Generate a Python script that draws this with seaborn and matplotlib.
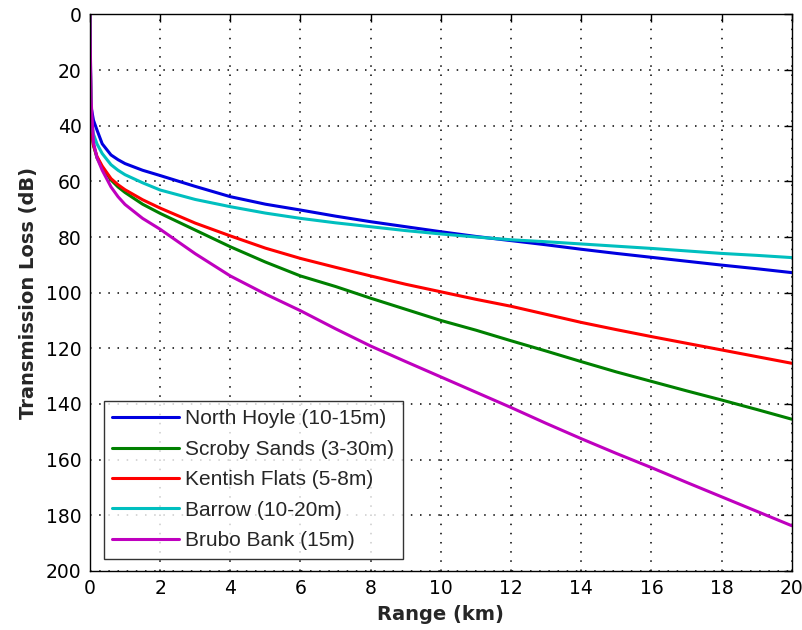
import matplotlib
matplotlib.use("Agg")
import matplotlib.pyplot as plt
import seaborn as sns
import pandas as pd

# ---- data ----
range_km = [0, 0.03, 0.1, 0.2, 0.35, 0.6, 0.8, 1.0, 1.5, 2, 3, 4, 5, 6, 7, 8,
            9, 10, 11, 12, 13, 14, 15, 16, 17, 18, 19, 20]

north_hoyle = [0, 33, 38, 41.5, 46.5, 50.5, 52.2, 53.6, 56, 57.9, 61.8, 65.5,
               68.2, 70.3, 72.5, 74.5, 76.3, 78.1, 79.8, 81.3, 82.8, 84.4,
               85.9, 87.3, 88.7, 90.1, 91.4, 92.8]
scroby_sands = [0, 40, 47, 51.5, 55, 59.5, 62, 64, 68.2, 71.5, 77.5, 83.5,
                89, 94, 97.8, 102, 106, 110, 113.5, 117.3, 121, 124.8, 128.5,
                131.9, 135.3, 138.6, 142, 145.5]
kentish_flats = [0, 40, 47, 51, 54.5, 59, 61.2, 63, 66.6, 69.6, 75, 79.6, 84,
                 87.7, 90.9, 94, 97, 99.7, 102.4, 104.9, 107.8, 110.7, 113.3,
                 115.8, 118.2, 120.6, 123, 125.4]
barrow = [0, 37, 43, 46.5, 50, 54, 56, 57.6, 60.5, 63.1, 66.5, 69.1, 71.4,
          73.3, 74.9, 76.3, 77.7, 78.9, 80, 81, 81.7, 82.5, 83.3, 84.1, 85,
          85.9, 86.6, 87.4]
brubo_bank = [0, 30, 46, 51.5, 56, 62, 65.5, 68.3, 73.3, 77.2, 86, 94, 100.5,
              106.5, 113, 119.2, 124.8, 130.3, 135.8, 141.3, 147, 152.5,
              157.8, 162.9, 168.2, 173.4, 178.6, 183.8]

series_names = ["North Hoyle (10-15m)", "Scroby Sands (3-30m)",
                "Kentish Flats (5-8m)", "Barrow (10-20m)", "Brubo Bank (15m)"]
series_values = [north_hoyle, scroby_sands, kentish_flats, barrow, brubo_bank]
series_colors = ["#0000e0", "#008000", "#ff0000", "#00bfbf", "#bf00bf"]

x_ticks = [0, 2, 4, 6, 8, 10, 12, 14, 16, 18, 20]
y_ticks = [0, 20, 40, 60, 80, 100, 120, 140, 160, 180, 200]

rows = []
for name, vals in zip(series_names, series_values):
    for x, y in zip(range_km, vals):
        rows.append({"Range": x, "TL": y, "Site": name})
df = pd.DataFrame(rows)

# ---- style ----
sns.set_style("white")
plt.rcParams["font.family"] = ["DejaVu Sans Condensed", "DejaVu Sans"]

fig = plt.figure(figsize=(8.03, 6.30), dpi=100)
ax = fig.add_axes([0.112, 0.094, 0.874, 0.883])

sns.lineplot(data=df, x="Range", y="TL", hue="Site", hue_order=series_names,
             palette=dict(zip(series_names, series_colors)), linewidth=2.2,
             sort=False, estimator=None, ax=ax)

ax.set_xlim(0, 20)
ax.set_ylim(200, 0)
ax.set_xticks(x_ticks)
ax.set_yticks(y_ticks)
ax.tick_params(direction="in", length=6, width=1, top=True, right=True,
               labelsize=13.5, colors="black", pad=6)
ax.grid(True, color="black", linestyle=(0, (1, 5)), linewidth=1.1)
for sp in ax.spines.values():
    sp.set_color("black")
    sp.set_linewidth(1.0)

ax.set_xlabel("Range (km)", fontsize=14, fontweight="bold", labelpad=5)
ax.set_ylabel("Transmission Loss (dB)", fontsize=14, fontweight="bold",
              labelpad=6)

leg = ax.legend(loc="lower left", bbox_to_anchor=(0.02, 0.022),
                frameon=True, fancybox=False, edgecolor="black",
                prop={"family": ["Liberation Sans", "DejaVu Sans"], "size": 15},
                handlelength=3.2, handletextpad=0.3, borderpad=0.4,
                labelspacing=0.55, borderaxespad=0)
leg.get_frame().set_linewidth(1.0)
for line in leg.get_lines():
    line.set_linewidth(2.2)

fig.savefig("out.png", dpi=100)
